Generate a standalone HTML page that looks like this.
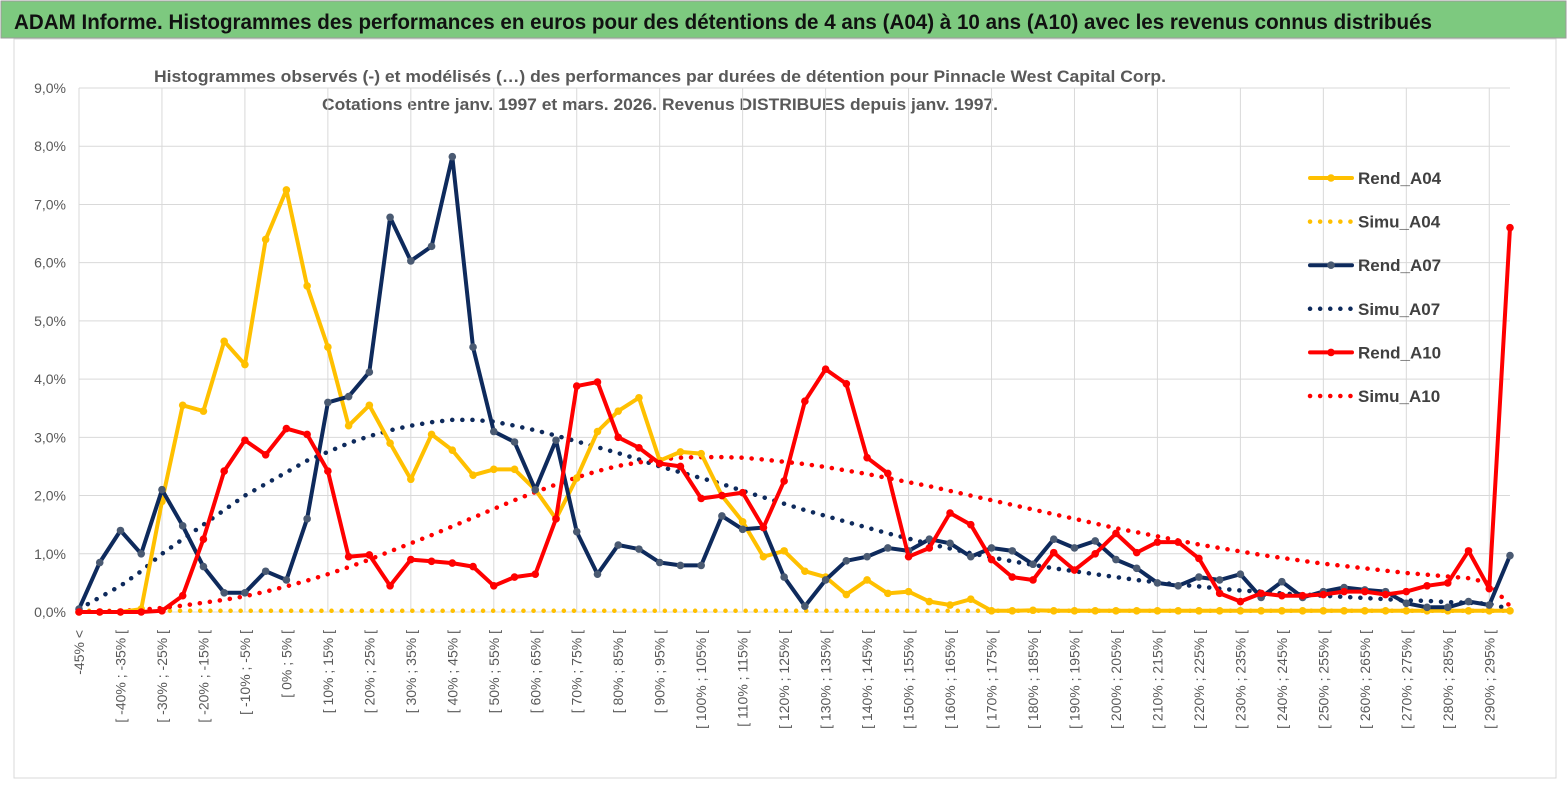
<!DOCTYPE html>
<html><head><meta charset="utf-8"><style>
body{margin:0;background:#fff;}
svg{display:block;font-family:"Liberation Sans",sans-serif;}
</style></head><body>
<svg id="chart" width="1567" height="789" viewBox="0 0 1567 789">
<rect x="0" y="0" width="1567" height="789" fill="#fff"/>
<rect x="1" y="1" width="1565" height="37" fill="#7dc97f" stroke="#9a9a9a"/>
<text x="14" y="29" font-size="21" font-weight="bold" fill="#111" textLength="1418" lengthAdjust="spacingAndGlyphs">ADAM Informe. Histogrammes des performances en euros pour des détentions de 4 ans (A04) à 10 ans (A10) avec les revenus connus distribués</text>
<rect x="14" y="39" width="1542" height="739" fill="none" stroke="#d9d9d9"/>
<text x="660" y="82" font-size="17" font-weight="bold" fill="#595959" text-anchor="middle" textLength="1012" lengthAdjust="spacingAndGlyphs">Histogrammes observés (-)  et modélisés (…) des performances par durées de détention pour Pinnacle West Capital Corp.</text>
<text x="660" y="110" font-size="17" font-weight="bold" fill="#595959" text-anchor="middle" textLength="676" lengthAdjust="spacingAndGlyphs">Cotations entre janv. 1997 et mars. 2026.  Revenus DISTRIBUES depuis janv. 1997.</text>
<g id="grid"></g><g id="axes"></g><g id="series"></g><g id="legend"></g>
</svg>
<script>
const categories = [];
categories.push('-45% <');
for (let k = 1; k < 70; k++) categories.push('[ ' + (-50 + 5 * k) + '% ; ' + (-45 + 5 * k) + '% [');
const yTicks = [0,1,2,3,4,5,6,7,8,9];
const rendA04 = [0,0,0,0.05,1.9,3.55,3.45,4.65,4.25,6.4,7.25,5.6,4.55,3.2,3.55,2.9,2.28,3.05,2.78,2.35,2.45,2.45,2.1,1.6,2.3,3.1,3.45,3.68,2.6,2.75,2.72,2.0,1.55,0.95,1.05,0.7,0.6,0.3,0.55,0.32,0.35,0.18,0.12,0.22,0.02,0.02,0.03,0.02,0.02,0.02,0.02,0.02,0.02,0.02,0.02,0.02,0.02,0.02,0.02,0.02,0.02,0.02,0.02,0.02,0.02,0.02,0.02,0.02,0.02,0.02];
const simuA04 = new Array(70).fill(0.02);
const rendA07 = [0.05,0.85,1.4,1.0,2.1,1.48,0.78,0.33,0.33,0.7,0.55,1.6,3.6,3.7,4.12,6.78,6.03,6.28,7.82,4.55,3.1,2.92,2.1,2.95,1.38,0.65,1.15,1.08,0.85,0.8,0.8,1.65,1.42,1.45,0.6,0.1,0.55,0.88,0.95,1.1,1.05,1.25,1.18,0.95,1.1,1.05,0.82,1.25,1.1,1.22,0.9,0.75,0.5,0.45,0.6,0.55,0.65,0.25,0.52,0.25,0.35,0.42,0.38,0.35,0.15,0.08,0.08,0.18,0.12,0.97];
const simuA07 = [0.05,0.25,0.45,0.7,1.0,1.25,1.5,1.75,2.0,2.2,2.4,2.6,2.75,2.9,3.02,3.12,3.2,3.26,3.3,3.3,3.27,3.2,3.12,3.03,2.93,2.83,2.73,2.62,2.5,2.4,2.3,2.2,2.08,1.97,1.86,1.75,1.65,1.55,1.45,1.35,1.26,1.17,1.09,1.01,0.94,0.87,0.81,0.75,0.7,0.65,0.6,0.55,0.51,0.47,0.44,0.4,0.37,0.35,0.32,0.3,0.28,0.26,0.24,0.22,0.2,0.19,0.17,0.16,0.14,0.05];
const rendA10 = [0,0,0,0,0.02,0.28,1.25,2.42,2.95,2.7,3.15,3.05,2.42,0.95,0.98,0.45,0.9,0.87,0.84,0.78,0.45,0.6,0.65,1.6,3.88,3.95,3.0,2.82,2.55,2.5,1.95,2.0,2.05,1.45,2.25,3.62,4.17,3.92,2.65,2.38,0.95,1.1,1.7,1.5,0.9,0.6,0.55,1.02,0.72,1.0,1.35,1.02,1.2,1.2,0.92,0.32,0.18,0.32,0.28,0.28,0.3,0.35,0.35,0.3,0.35,0.45,0.5,1.05,0.4,6.6];
const simuA10 = [0,0.01,0.02,0.04,0.07,0.11,0.16,0.21,0.27,0.35,0.44,0.54,0.65,0.77,0.9,1.04,1.18,1.32,1.47,1.62,1.77,1.92,2.06,2.19,2.31,2.42,2.51,2.57,2.62,2.65,2.66,2.66,2.65,2.62,2.58,2.54,2.49,2.43,2.37,2.3,2.23,2.16,2.08,2.0,1.92,1.84,1.76,1.68,1.6,1.52,1.44,1.37,1.3,1.23,1.16,1.1,1.04,0.98,0.93,0.88,0.83,0.79,0.75,0.71,0.67,0.64,0.61,0.58,0.5,0.1];
const seriesNames = ['Rend_A04','Simu_A04','Rend_A07','Simu_A07','Rend_A10','Simu_A10'];

const NS = 'http://www.w3.org/2000/svg';
const X0 = 79, X1 = 1510, Y0 = 612, Y9 = 88;
const xs = i => X0 + (X1 - X0) * i / (categories.length - 1);
const ys = v => Y0 - (Y0 - Y9) * v / 9;
function mk(tag, attrs, parent) { const e = document.createElementNS(NS, tag); for (const k in attrs) e.setAttribute(k, attrs[k]); parent.appendChild(e); return e; }
const grid = document.getElementById('grid'), axes = document.getElementById('axes'), ser = document.getElementById('series'), leg = document.getElementById('legend');
yTicks.forEach(t => {
  const l = mk('line', {x1: X0, x2: X1, y1: ys(t), y2: ys(t), stroke: '#d9d9d9', 'stroke-width': 1}, grid);
  
  
  const tx = mk('text', {x: 66, y: ys(t) + 5, 'font-size': 14, fill: '#595959', 'text-anchor': 'end'}, axes);
  tx.textContent = t.toFixed(1).replace('.', ',') + '%';
  
  
});
categories.forEach((c, i) => {
  if (i % 4 === 0) {
    const l = mk('line', {x1: xs(i), x2: xs(i), y1: Y9, y2: Y0, stroke: '#d9d9d9', 'stroke-width': 1}, grid);
    
    
  }
  if (i % 2 === 0) {
    const x = xs(i) + 5, y = 630;
    const tx = mk('text', {x: x, y: y, 'font-size': 14, fill: '#595959', 'text-anchor': 'end', transform: 'rotate(-90 ' + x + ' ' + y + ')'}, axes);
    tx.textContent = c;
    
    
  }
});
const ax = mk('line', {x1: X0, x2: X1, y1: Y0, y2: Y0, stroke: '#d9d9d9', 'stroke-width': 1}, axes);



const defs = [
  {name: 'simu-a04', data: simuA04, color: '#ffc000', dotted: true},
  {name: 'simu-a07', data: simuA07, color: '#0e2a5c', dotted: true},
  {name: 'simu-a10', data: simuA10, color: '#ff0000', dotted: true},
  {name: 'rend-a04', data: rendA04, color: '#ffc000', marker: '#ffc000'},
  {name: 'rend-a07', data: rendA07, color: '#0e2a5c', marker: '#4a5a72'},
  {name: 'rend-a10', data: rendA10, color: '#ff0000', marker: '#ff0000'}
];
defs.forEach(s => {
  const g = mk('g', {}, ser);
  
  
  const pts = s.data.map((v, i) => xs(i).toFixed(1) + ',' + ys(v).toFixed(1)).join(' ');
  const attrs = {points: pts, fill: 'none', stroke: s.color, 'stroke-width': 4, 'stroke-linejoin': 'round', 'stroke-linecap': 'round'};
  if (s.dotted) { attrs['stroke-dasharray'] = '0.1 10'; attrs['stroke-width'] = 4.5; }
  const pl = mk('polyline', attrs, g);
  
  
  if (s.marker) s.data.forEach((v, i) => {
    const c = mk('circle', {cx: xs(i), cy: ys(v), r: 3.8, fill: s.marker}, g);
    
    
  });
});
const legColors = ['#ffc000','#ffc000','#0e2a5c','#0e2a5c','#ff0000','#ff0000'];
const legMarkers = ['#ffc000', null, '#4a5a72', null, '#ff0000', null];
seriesNames.forEach((n, i) => {
  const y = 178 + i * 43.6;
  const g = mk('g', {}, leg);
  
  
  const l = mk('line', {x1: 1310, x2: 1352, y1: y, y2: y, stroke: legColors[i], 'stroke-width': 4, 'stroke-linecap': 'round'}, g);
  if (!legMarkers[i]) { l.setAttribute('stroke-dasharray', '0.1 10'); l.setAttribute('stroke-width', 4.5); }
  else mk('circle', {cx: 1331, cy: y, r: 3.8, fill: legMarkers[i]}, g);
  const t = mk('text', {x: 1358, y: y + 6, 'font-size': 17, 'font-weight': 'bold', fill: '#404040'}, g);
  t.textContent = n;
});
</script>
</body></html>
